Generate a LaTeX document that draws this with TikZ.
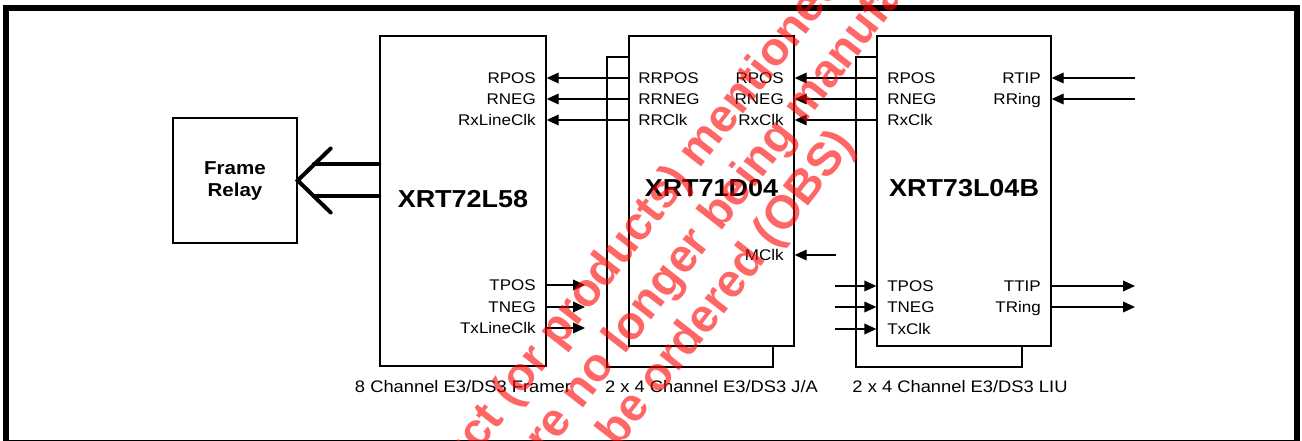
\documentclass[tikz,border=0pt]{standalone}
\usepackage{fontspec}
\setmainfont{Liberation Sans}
\newfontfamily\dgfont[FakeStretch=1.1]{Liberation Sans}
\usetikzlibrary{arrows.meta,calc}
\begin{document}
\begin{tikzpicture}[x=0.75pt,y=-0.75pt,
  chip/.style={draw, line width=1pt, fill=white, inner sep=0pt},
  pin/.style={font=\dgfont\fontsize{11.6}{13}\selectfont, inner sep=0pt, text height=8.3pt, text depth=0pt},
  chipname/.style={font=\dgfont\bfseries\fontsize{18.4}{22}\selectfont, inner sep=0pt, text height=13.2pt, text depth=0pt},
  caption/.style={font=\dgfont\fontsize{12.5}{15}\selectfont, inner sep=0pt, text height=8.95pt, text depth=0pt},
  sig/.style={line width=1pt, -{Triangle[length=9pt,width=8pt]}},
  bus/.style={line width=3pt, line cap=round, line join=miter},
  wmark/.style={font=\bfseries\fontsize{35}{42}\selectfont, text=red, text opacity=0.6, inner sep=0pt, rotate=52, anchor=base west}
]
\useasboundingbox (0,0) rectangle (1302,441);
\begin{scope}
\clip (0,0) rectangle (1302,441);
\fill[white] (0,0) rectangle (1302,441);
% outer frame
\draw[line width=4.5pt] (6,8) rectangle (1297,443);

% Frame Relay
\node[chip, minimum width=93pt, minimum height=93.75pt] (fr) at (235,180.5) {};
\node[font=\dgfont\bfseries\fontsize{14}{18}\selectfont, inner sep=0pt, align=center] (frtxt) at (235,181) {Frame\\[-1pt]Relay};

% XRT72L58
\node[chip, minimum width=124.5pt, minimum height=247.5pt] (f72) at (463,201) {};
\node[chipname] (n72) at (463,199) {XRT72L58};
\node[pin, anchor=east] (p72a) at (536,78) {RPOS};
\node[pin, anchor=east] (p72b) at (536,99) {RNEG};
\node[pin, anchor=east] (p72c) at (536,120) {RxLineClk};
\node[pin, anchor=east] (p72d) at (536,285) {TPOS};
\node[pin, anchor=east] (p72e) at (536,307) {TNEG};
\node[pin, anchor=east] (p72f) at (536,328) {TxLineClk};

% XRT71D04
\node[chip, minimum width=124.5pt, minimum height=232.5pt] (jab) at (690,212) {};
\node[chip, minimum width=123.75pt, minimum height=232.5pt] (ja) at (711.5,191) {};
\node[chipname] (n71) at (711.5,188) {XRT71D04};
\node[pin, anchor=west] (p71a) at (638,78) {RRPOS};
\node[pin, anchor=west] (p71b) at (638,99) {RRNEG};
\node[pin, anchor=west] (p71c) at (638,120) {RRClk};
\node[pin, anchor=east] (p71d) at (784,78) {RPOS};
\node[pin, anchor=east] (p71e) at (784,99) {RNEG};
\node[pin, anchor=east] (p71f) at (784,120) {RxClk};
\node[pin, anchor=east] (p71g) at (784,255) {MClk};

% XRT73L04B
\node[chip, minimum width=124.5pt, minimum height=232.5pt] (liub) at (939,212) {};
\node[chip, minimum width=130.5pt, minimum height=232.5pt] (liu) at (964,191) {};
\node[chipname] (n73) at (964,188) {XRT73L04B};
\node[pin, anchor=west] (p73a) at (887,78) {RPOS};
\node[pin, anchor=west] (p73b) at (887,99) {RNEG};
\node[pin, anchor=west] (p73c) at (887,120) {RxClk};
\node[pin, anchor=east] (p73d) at (1041,78) {RTIP};
\node[pin, anchor=east] (p73e) at (1041,99) {RRing};
\node[pin, anchor=west] (p73f) at (887,286) {TPOS};
\node[pin, anchor=west] (p73g) at (887,307) {TNEG};
\node[pin, anchor=west] (p73h) at (887,329) {TxClk};
\node[pin, anchor=east] (p73i) at (1041,286) {TTIP};
\node[pin, anchor=east] (p73j) at (1041,307) {TRing};

% captions
\node[caption] (c1) at (463,387) {8 Channel E3/DS3 Framer};
\node[caption] (c2) at (711.5,387) {2 x 4 Channel E3/DS3 J/A};
\node[caption] (c3) at (960,387) {2 x 4 Channel E3/DS3 LIU};

% free ends
\coordinate (o1) at (585,285);
\coordinate (o2) at (585,307);
\coordinate (o3) at (585,328);
\coordinate (i1) at (835,286);
\coordinate (i2) at (835,307);
\coordinate (i3) at (835,329);
\coordinate (mc) at (836,255);
\coordinate (rt) at (1135,78);
\coordinate (rr) at (1135,99);
\coordinate (tt) at (1135,286);
\coordinate (tr) at (1135,307);

% connectors
\draw[sig] (ja.west |- p71a) -- (f72.east |- p71a);
\draw[sig] (ja.west |- p71b) -- (f72.east |- p71b);
\draw[sig] (ja.west |- p71c) -- (f72.east |- p71c);
\draw[sig] (liu.west |- p73a) -- (ja.east |- p73a);
\draw[sig] (liu.west |- p73b) -- (ja.east |- p73b);
\draw[sig] (liu.west |- p73c) -- (ja.east |- p73c);
\draw[sig] (rt) -- (liu.east |- rt);
\draw[sig] (rr) -- (liu.east |- rr);
\draw[sig] (mc) -- (ja.east |- mc);
\draw[sig] (f72.east |- o1) -- (o1);
\draw[sig] (f72.east |- o2) -- (o2);
\draw[sig] (f72.east |- o3) -- (o3);
\draw[sig] (i1) -- (liu.west |- i1);
\draw[sig] (i2) -- (liu.west |- i2);
\draw[sig] (i3) -- (liu.west |- i3);
\draw[sig] (liu.east |- tt) -- (tt);
\draw[sig] (liu.east |- tr) -- (tr);

% bus arrow to Frame Relay
\coordinate (bu) at ($(fr.east)+(16,-16)$);
\coordinate (bl) at ($(fr.east)+(16,16)$);
\draw[bus] (f72.west |- bu) -- (bu);
\draw[bus] (f72.west |- bl) -- (bl);
\draw[bus] ($(fr.east)+(33,-32)$) -- (fr.east) -- ($(fr.east)+(33,32)$);

% watermark
\node[wmark] (w1) at (331,642) {This product (or products) mentioned here};
\node[wmark] (w2) at (530,476) {are no longer being manufactured};
\node[wmark] (w3) at (457,656) {and cannot be ordered (OBS)};
\end{scope}
\end{tikzpicture}
\end{document}
